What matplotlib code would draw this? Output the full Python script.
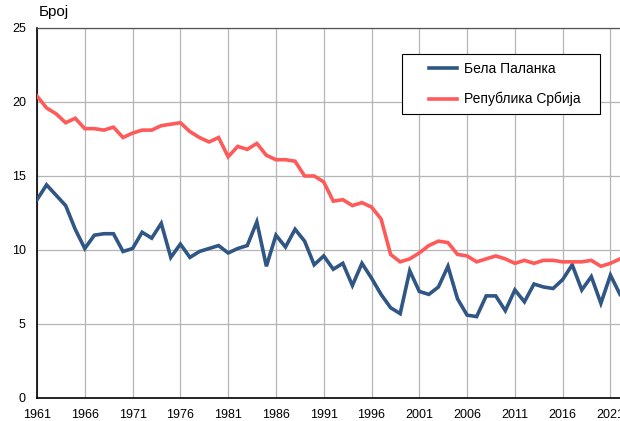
import matplotlib.pyplot as plt
from matplotlib.patches import Rectangle

plt.rcParams['font.family'] = ['Liberation Sans', 'DejaVu Sans']

years = list(range(1961, 2023))

bela_palanka = [13.4, 14.4, 13.7, 13.0, 11.4, 10.1, 11.0, 11.1, 11.1, 9.9,
                10.1, 11.2, 10.8, 11.8, 9.5, 10.4, 9.5, 9.9, 10.1, 10.3,
                9.8, 10.1, 10.3, 11.9, 8.9, 11.0, 10.2, 11.4, 10.6, 9.0,
                9.6, 8.7, 9.1, 7.6, 9.1, 8.1, 7.0, 6.1, 5.7, 8.6,
                7.2, 7.0, 7.5, 8.9, 6.7, 5.6, 5.5, 6.9, 6.9, 5.9,
                7.3, 6.5, 7.7, 7.5, 7.4, 8.0, 9.0, 7.3, 8.2, 6.4,
                8.3, 7.0]

srbija = [20.4, 19.6, 19.2, 18.6, 18.9, 18.2, 18.2, 18.1, 18.3, 17.6,
          17.9, 18.1, 18.1, 18.4, 18.5, 18.6, 18.0, 17.6, 17.3, 17.6,
          16.3, 17.0, 16.8, 17.2, 16.4, 16.1, 16.1, 16.0, 15.0, 15.0,
          14.6, 13.3, 13.4, 13.0, 13.2, 12.9, 12.1, 9.7, 9.2, 9.4,
          9.8, 10.3, 10.6, 10.5, 9.7, 9.6, 9.2, 9.4, 9.6, 9.4,
          9.1, 9.3, 9.1, 9.3, 9.3, 9.2, 9.2, 9.2, 9.3, 8.9,
          9.1, 9.4]

x_ticks = list(range(1961, 2022, 5))
y_ticks = [0, 5, 10, 15, 20, 25]

W, H = 620, 421
fig = plt.figure(figsize=(W / 100, H / 100), dpi=100)
ax = fig.add_axes([37 / W, 23 / H, 1 - 37 / W, 370 / H])

ax.plot(years, bela_palanka, color='#2f5684', lw=2.6, label='Бела Паланка',
        solid_joinstyle='miter', zorder=3)
ax.plot(years, srbija, color='#ff5a5a', lw=2.6, label='Република Србија',
        solid_joinstyle='miter', zorder=3)

ax.set_xlim(1961, 2022)
ax.set_ylim(0, 25)
ax.set_xticks(x_ticks)
ax.set_yticks(y_ticks)
ax.tick_params(length=0, labelsize=9)
ax.tick_params(axis='x', pad=8)
ax.tick_params(axis='y', pad=8)
ax.grid(True, color='#b5b5b5', lw=0.9)
ax.set_axisbelow(True)

for side in ['left', 'bottom']:
    ax.spines[side].set_color('black')
    ax.spines[side].set_linewidth(1.2)
ax.spines['top'].set_color('#555555')
ax.spines['top'].set_linewidth(0.9)
ax.spines['right'].set_visible(False)

fig.text(39 / W, 1 - 12 / H, 'Број', fontsize=11, va='center', ha='left')

# legend box drawn separately so the padding matches the original
box = Rectangle((402 / W, 1 - 114 / H), 198 / W, 60 / H, transform=fig.transFigure,
                facecolor='white', edgecolor='black', lw=0.8, zorder=4)
fig.patches.append(box)
leg = fig.legend(loc='upper left', bbox_to_anchor=(429 / W, 1 - 62 / H), fontsize=10,
                 frameon=False, handlelength=2.0, borderpad=0, labelspacing=1.15,
                 handletextpad=0.55, borderaxespad=0)
leg.set_zorder(5)

fig.savefig('out.png', dpi=100)
